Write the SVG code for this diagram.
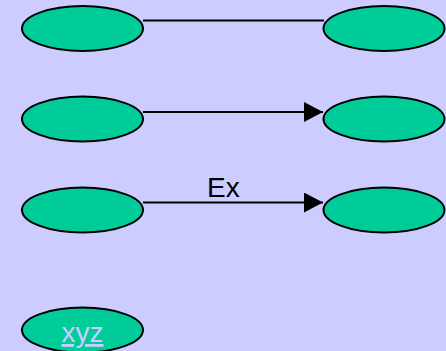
<svg xmlns="http://www.w3.org/2000/svg" width="446" height="351" viewBox="0 0 446 351">
  <style>
    .node { fill: #00cc99; stroke: #000; stroke-width: 2; }
    .edge { stroke: #000; stroke-width: 2; fill: none; }
    .label { font-family: "Liberation Sans", Arial, sans-serif; font-size: 28px; }
  </style>
  <defs>
    <marker id="arrow" markerUnits="userSpaceOnUse" markerWidth="20" markerHeight="22" refX="19" refY="10" orient="auto">
      <path d="M0,0 L19,10 L0,20 Z" fill="#000"/>
    </marker>
  </defs>
  <rect width="446" height="351" fill="#ccccff"/>

  <g id="connectors">
    <line class="edge" x1="143" y1="20.5" x2="324" y2="20.5"/>
    <line class="edge" x1="143" y1="112" x2="323" y2="112" marker-end="url(#arrow)"/>
    <line class="edge" x1="143" y1="202.5" x2="323" y2="202.5" marker-end="url(#arrow)"/>
    <text class="label" x="207" y="197" fill="#000">Ex</text>
  </g>

  <g id="a1"><ellipse class="node" cx="82.5" cy="28.5" rx="60.5" ry="22.5"/></g>
  <g id="b1"><ellipse class="node" cx="384" cy="28.5" rx="60.5" ry="22.5"/></g>
  <g id="a2"><ellipse class="node" cx="82.5" cy="119" rx="60.5" ry="22.5"/></g>
  <g id="b2"><ellipse class="node" cx="384" cy="119" rx="60.5" ry="22.5"/></g>
  <g id="a3"><ellipse class="node" cx="82.5" cy="210" rx="60.5" ry="22.5"/></g>
  <g id="b3"><ellipse class="node" cx="384" cy="210" rx="60.5" ry="22.5"/></g>
  <g id="link">
    <ellipse class="node" cx="82.5" cy="330" rx="60.5" ry="22.5"/>
    <text class="label" x="82.5" y="342" text-anchor="middle" fill="#ccccff" text-decoration="underline">xyz</text>
  </g>
</svg>
